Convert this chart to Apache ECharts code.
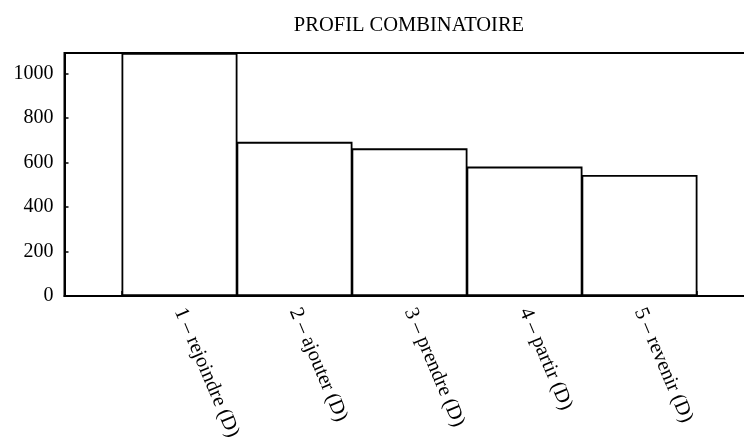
<!DOCTYPE html>
<html>
<head>
<meta charset="utf-8">
<script src="https://cdn.jsdelivr.net/npm/echarts@6/dist/echarts.min.js"></script>
<style>
html,body{margin:0;padding:0;background:#fff;}
#chart{width:744px;height:437px;}
</style>
</head>
<body>
<div id="chart"></div>
<script>
const titleText = 'PROFIL COMBINATOIRE';
const categories = ['1 – rejoindre (D)', '2 – ajouter (D)', '3 – prendre (D)', '4 – partir (D)', '5 – revenir (D)'];
const values = [1091, 692, 663, 581, 543];
const yMin = 0;
const yMax = 1091;
const yInterval = 200;

const FONT = '"Liberation Serif", "DejaVu Serif", serif';
const chart = echarts.init(document.getElementById('chart'));
chart.setOption({
  animation: false,
  backgroundColor: '#ffffff',
  title: {
    text: titleText,
    left: 404, textAlign: 'center',
    top: 10,
    textStyle: { fontFamily: FONT, fontSize: 20.5, fontWeight: 'normal', color: '#000' }
  },
  grid: {
    left: 64.5, width: 690, top: 53, height: 243,
    outerBoundsMode: 'none', containLabel: false,
    show: true, borderColor: '#000', borderWidth: 2, backgroundColor: 'transparent'
  },
  xAxis: {
    type: 'value',
    min: 0, max: categories.length + 1, interval: 0.5,
    axisLine: { show: true, lineStyle: { color: '#000', width: 2 } },
    axisTick: { show: true, inside: true, length: 5, lineStyle: { color: '#000', width: 1.5 } },
    splitLine: { show: false },
    axisLabel: {
      rotate: -67,
      margin: 13,
      fontFamily: FONT, fontSize: 20.5, color: '#000',
      showMinLabel: true, showMaxLabel: true,
      formatter: function (v) {
        const i = Math.round(v);
        if (Math.abs(v - i) > 1e-6 || i < 1 || i > categories.length) return '';
        return categories[i - 1];
      }
    }
  },
  yAxis: {
    type: 'value',
    min: yMin, max: yMax, interval: yInterval,
    axisLine: { show: true, lineStyle: { color: '#000', width: 2 } },
    axisTick: { show: true, inside: true, length: 4, lineStyle: { color: '#000', width: 1.5 } },
    splitLine: { show: false },
    axisLabel: {
      fontFamily: FONT, fontSize: 20, color: '#000', margin: 11, showMaxLabel: false,
      formatter: function (v) { return String(v); }
    }
  },
  series: [{
    type: 'bar',
    barWidth: 116,
    data: values.map((v, i) => [i + 1, v]),
    itemStyle: { color: '#ffffff', borderColor: '#000', borderWidth: 1.8 },
    silent: true
  }]
});
</script>
</body>
</html>
